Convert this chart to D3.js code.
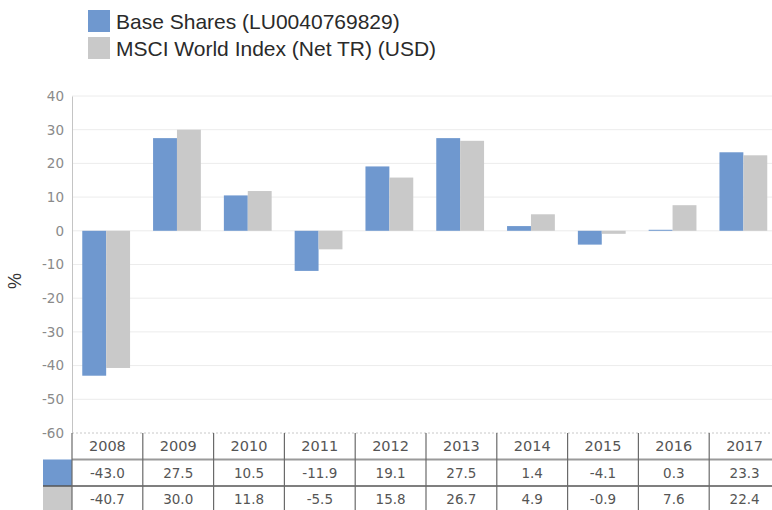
<!DOCTYPE html>
<html>
<head>
<meta charset="utf-8">
<script src="https://cdn.jsdelivr.net/npm/d3@7"></script>
<style>
  html, body { margin: 0; padding: 0; background: #fff; }
  svg { display: block; }
</style>
</head>
<body>
<svg id="chart" width="772" height="510"></svg>
<script>
const years = ["2008","2009","2010","2011","2012","2013","2014","2015","2016","2017"];
const seriesNames = ["Base Shares (LU0040769829)", "MSCI World Index (Net TR) (USD)"];
const baseShares = [-43.0, 27.5, 10.5, -11.9, 19.1, 27.5, 1.4, -4.1, 0.3, 23.3];
const msciWorld = [-40.7, 30.0, 11.8, -5.5, 15.8, 26.7, 4.9, -0.9, 7.6, 22.4];
const yTicks = [40, 30, 20, 10, 0, -10, -20, -30, -40, -50, -60];
const colors = ["#6f98cf", "#c9c9c9"];

const svg = d3.select("#chart");
const plotLeft = 72, plotRight = 780, plotTop = 96, plotBottom = 433;
const rowH = 26.5;

const y = d3.scaleLinear().domain([-60, 40]).range([plotBottom, plotTop]);
const x0 = d3.scaleBand().domain(years).range([plotLeft, plotRight]).padding(0);
const bw = x0.bandwidth();
const x1 = d3.scaleBand().domain([0, 1]).range([bw * 0.145, bw * 0.82]).padding(0);

// gridlines
svg.append("g").selectAll("line").data(yTicks).join("line")
  .attr("x1", plotLeft).attr("x2", plotRight)
  .attr("y1", d => y(d)).attr("y2", d => y(d))
  .attr("stroke", d => d === -60 ? "#c8c8c8" : "#ececec")
  .attr("stroke-width", 1)
  .attr("stroke-dasharray", d => d === -60 ? "2,2" : null);

// y axis
const yAxis = d3.axisLeft(y).tickValues(yTicks).tickFormat(d => String(d)).tickSize(0).tickPadding(8);
const gy = svg.append("g").attr("transform", `translate(${plotLeft},0)`).call(yAxis);
gy.select(".domain").attr("stroke", "#c4c4c4");
gy.selectAll("text")
  .attr("font-family", "DejaVu Sans, sans-serif")
  .attr("font-size", 13.5)
  .attr("fill", "#8a8a8a");

// % label
svg.append("text")
  .attr("transform", `translate(21,281) rotate(-90)`)
  .attr("text-anchor", "middle")
  .attr("font-family", "Liberation Sans, Arial, sans-serif")
  .attr("font-size", 18)
  .attr("fill", "#333")
  .text("%");

// bars
const allSeries = [baseShares, msciWorld];
const groups = svg.append("g").selectAll("g").data(years).join("g")
  .attr("transform", d => `translate(${x0(d)},0)`);
groups.selectAll("rect").data((d, i) => allSeries.map((s, k) => ({k, v: s[i]}))).join("rect")
  .attr("x", d => x1(d.k))
  .attr("width", x1.bandwidth())
  .attr("y", d => y(Math.max(0, d.v)))
  .attr("height", d => Math.abs(y(d.v) - y(0)))
  .attr("fill", d => colors[d.k]);

// table
const table = svg.append("g");
const hdrTop = plotBottom;
table.selectAll("text.yr").data(years).join("text")
  .attr("class", "yr")
  .attr("x", d => x0(d) + bw / 2)
  .attr("y", hdrTop + rowH / 2 + 5)
  .attr("text-anchor", "middle")
  .attr("font-family", "DejaVu Sans, sans-serif")
  .attr("font-size", 14.5)
  .attr("fill", "#555")
  .text(d => d);

allSeries.forEach((s, k) => {
  const top = hdrTop + rowH * (k + 1);
  table.append("rect")
    .attr("x", 43).attr("y", top)
    .attr("width", plotLeft - 43).attr("height", rowH)
    .attr("fill", colors[k]);
  table.selectAll(null).data(s).join("text")
    .attr("x", (d, i) => x0(years[i]) + bw / 2)
    .attr("y", top + rowH / 2 + 5)
    .attr("text-anchor", "middle")
    .attr("font-family", "DejaVu Sans, sans-serif")
    .attr("font-size", 13.5)
    .attr("fill", "#555")
    .text(d => d.toFixed(1));
});

table.append("line")
  .attr("x1", plotLeft).attr("x2", plotRight)
  .attr("y1", hdrTop + rowH).attr("y2", hdrTop + rowH)
  .attr("stroke", "#9a9a9a").attr("stroke-width", 2);
table.append("line")
  .attr("x1", 43).attr("x2", plotRight)
  .attr("y1", hdrTop + rowH * 2).attr("y2", hdrTop + rowH * 2)
  .attr("stroke", "#555").attr("stroke-width", 1.5);
const vx = [plotLeft].concat(years.map(d => x0(d) + bw));
table.selectAll("line.v").data(vx).join("line")
  .attr("class", "v")
  .attr("x1", d => d).attr("x2", d => d)
  .attr("y1", hdrTop).attr("y2", 510)
  .attr("stroke", "#6a6a6a").attr("stroke-width", 1.2);

// legend
const legend = svg.append("g");
seriesNames.forEach((name, k) => {
  const ly = 10 + k * 27;
  legend.append("rect")
    .attr("x", 88).attr("y", ly).attr("width", 22).attr("height", 22)
    .attr("fill", colors[k]);
  legend.append("text")
    .attr("x", 116).attr("y", ly + 19)
    .attr("font-family", "Liberation Sans, Arial, sans-serif")
    .attr("font-size", 21)
    .attr("fill", "#2a2a2a")
    .text(name);
});
</script>
</body>
</html>
